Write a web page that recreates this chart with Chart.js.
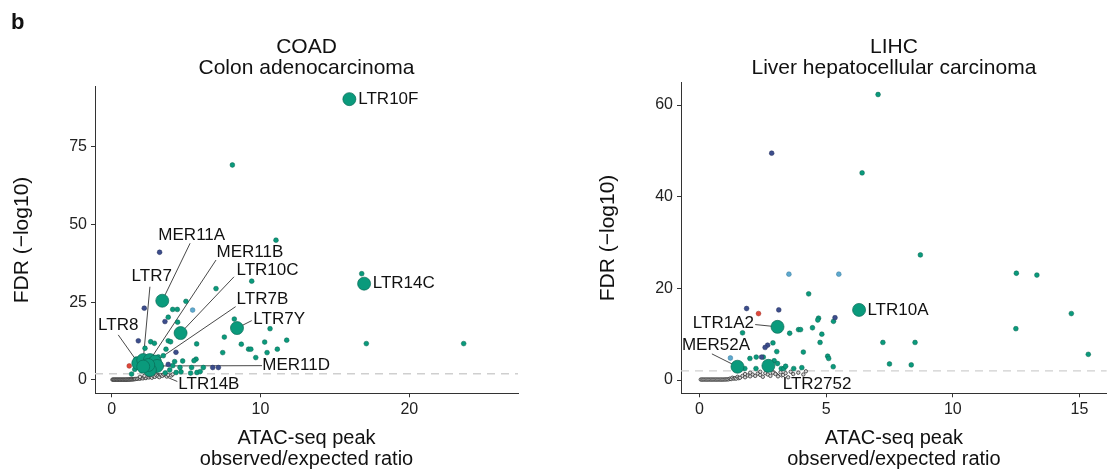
<!DOCTYPE html>
<html><head><meta charset="utf-8">
<script src="https://cdn.jsdelivr.net/npm/chart.js@4"></script>
<style>
html,body{margin:0;padding:0;background:#fff;width:1114px;height:472px;overflow:hidden}
canvas{position:absolute;left:0;top:0}
</style></head><body>
<canvas id="c1" width="1114" height="472"></canvas>
<canvas id="c2" width="1114" height="472"></canvas>
<script>
// ---------- DATA ----------
const fdrThreshold = 2;

// COAD
const coadXTicks = [0, 10, 20];
const coadYTicks = [0, 25, 50, 75];
const coadGray = [[0.05,0.1],[0.1,0.1],[0.15,0.1],[0.2,0.1],[0.25,0.1],[0.3,0.1],[0.35,0.1],[0.4,0.1],[0.45,0.1],[0.5,0.1],[0.55,0.1],[0.6,0.1],[0.65,0.1],[0.7,0.1],[0.75,0.1],[0.8,0.1],[0.85,0.1],[0.9,0.1],[0.95,0.1],[1.0,0.12],[1.05,0.12],[1.1,0.13],[1.15,0.14],[1.2,0.15],[1.25,0.16],[1.3,0.18],[1.35,0.2],[1.4,0.2],[1.45,0.22],[1.5,0.25],[1.55,0.28],[1.6,0.3],[1.7,0.35],[1.8,0.45],[1.9,0.4],[2.0,0.6],[2.1,0.5],[2.2,0.8],[2.3,0.6],[2.4,1.0],[2.5,0.8],[2.6,1.1],[2.7,0.7],[2.8,1.3],[2.9,1.0],[3.0,1.5],[3.1,1.2],[3.2,0.9],[3.3,1.6],[3.4,1.3],[3.5,1.8],[3.7,1.1],[3.8,1.6],[4.0,1.4],[4.1,1.8],[2.2,1.3],[2.5,1.6],[1.9,1.0]];
const coadTeal = [[8.11,69.2],[11.04,45.0],[16.80,34.2],[9.41,31.8],[7.01,29.4],[17.11,11.7],[23.65,11.7],[4.99,25.3],[8.24,19.6],[10.64,16.5],[7.57,13.8],[11.76,12.8],[10.28,12.2],[8.71,11.5],[9.20,9.9],[9.35,9.9],[10.44,8.8],[11.13,9.9],[7.46,8.8],[9.68,7.2],[4.10,22.7],[4.41,22.7],[3.80,20.2],[4.43,18.6],[2.62,12.3],[2.87,11.8],[3.80,12.6],[3.96,12.3],[2.24,10.2],[3.65,9.9],[5.71,11.6],[5.67,6.7],[5.53,6.2],[4.77,6.1],[4.23,5.9],[4.59,4.0],[5.37,4.0],[6.16,4.0],[4.33,2.4],[4.66,2.6],[5.30,2.2],[5.73,2.4],[5.95,2.7],[1.34,1.9],[1.63,6.7],[3.47,7.8],[3.13,7.4],[3.9,3.2],[4.1,4.6],[2.0,3.0],[1.55,3.4],[3.6,2.3]];
const coadNavy = [[3.22,41.1],[2.19,23.1],[3.58,18.8],[1.79,12.6],[4.32,8.9],[3.80,5.0],[6.79,4.0],[7.17,4.0],[3.3,4.3]];
const coadLightBlue = [[5.44,22.5]];
const coadRed = [[1.18,4.5]];
const coadBigNames = ['LTR10F','LTR14C','MER11A','LTR10C','LTR7Y','LTR8','LTR7','MER11B','LTR7B','MER11D','LTR14B','',''];
const coadBig = [[15.97,90.4],[16.96,31.0],[3.40,25.5],[4.63,15.1],[8.42,16.7],[1.79,5.4],[2.12,6.4],[2.57,6.4],[2.91,5.9],[3.05,4.5],[2.57,3.2],[2.46,4.8],[2.12,4.3]];
// label layout: name, text anchor (data units), align, leader start (data units or null)
const coadLabels = [
  ['LTR10F', [16.57,90.4], 'left', null],
  ['LTR14C', [17.54,31.0], 'left', null],
  ['MER11A', [5.38,46.4], 'center', [5.27,44.0]],
  ['LTR7',   [2.69,33.2], 'center', [2.57,30.0]],
  ['MER11B', [9.29,41.0], 'center', [7.01,38.6]],
  ['LTR10C', [10.47,35.4], 'center', [8.22,33.2]],
  ['LTR7B',  [10.13,26.1], 'center', [8.33,23.6]],
  ['LTR7Y',  [9.52,19.5], 'left', [9.41,19.1]],
  ['LTR8',   [0.44,17.7], 'center', [0.44,14.5]],
  ['MER11D', [10.12,4.6], 'left', [10.1,4.6]],
  ['LTR14B', [4.48,-1.4], 'left', [4.41,-0.5]]
];

// LIHC
const lihcXTicks = [0, 5, 10, 15];
const lihcYTicks = [0, 20, 40, 60];
const lihcGray = [[0.05,0.1],[0.1,0.1],[0.15,0.1],[0.2,0.1],[0.25,0.1],[0.3,0.1],[0.35,0.1],[0.4,0.1],[0.45,0.1],[0.5,0.1],[0.55,0.1],[0.6,0.1],[0.65,0.1],[0.7,0.1],[0.75,0.1],[0.8,0.1],[0.85,0.1],[0.9,0.1],[0.95,0.1],[1.0,0.12],[1.05,0.12],[1.1,0.15],[1.15,0.15],[1.2,0.3],[1.25,0.2],[1.3,0.5],[1.35,0.3],[1.4,0.4],[1.45,0.3],[1.5,0.7],[1.55,0.4],[1.6,0.5],[1.7,0.9],[1.8,0.6],[1.9,1.0],[2.0,0.8],[2.1,1.2],[2.2,0.9],[2.3,1.4],[2.4,1.1],[2.5,0.7],[2.6,1.5],[2.7,1.2],[2.8,0.9],[2.9,1.6],[3.0,1.3],[3.1,0.8],[3.2,1.7],[3.3,1.1],[3.4,1.5],[3.5,0.6],[3.6,1.8],[3.7,1.3],[3.9,1.6],[4.1,1.2],[4.2,1.9],[2.0,1.6],[2.4,1.8],[1.8,1.3]];
const lihcTeal = [[7.05,62.3],[6.42,45.2],[8.72,27.3],[12.51,23.3],[13.32,22.9],[4.31,18.8],[14.68,14.5],[12.49,11.2],[15.35,5.6],[7.24,8.2],[8.51,8.2],[7.50,3.5],[8.36,3.3],[4.70,13.5],[4.67,13.1],[4.46,11.4],[5.29,12.8],[3.91,11.0],[3.99,11.0],[3.56,10.2],[4.83,10.0],[4.76,8.2],[2.90,8.1],[4.10,6.1],[3.05,6.2],[5.06,5.2],[5.10,4.7],[5.28,2.9],[4.04,2.7],[3.72,2.5],[1.70,10.3],[1.99,4.7],[2.24,5.0],[2.52,5.0],[1.79,2.5],[2.23,2.5],[3.23,2.5],[3.33,2.5],[2.95,4.2],[3.08,3.6],[3.40,3.0]];
const lihcNavy = [[2.85,49.5],[1.86,15.6],[3.13,15.3],[5.35,13.6],[2.69,7.6],[2.59,7.1],[2.45,5.0]];
const lihcLightBlue = [[3.53,23.1],[5.50,23.1],[1.22,4.8]];
const lihcRed = [[2.33,14.5]];
const lihcBigNames = ['LTR10A','LTR1A2','MER52A','LTR2752'];
const lihcBig = [[6.30,15.3],[3.08,11.6],[1.50,2.9],[2.72,3.1]];
const lihcLabels = [
  ['LTR10A', [6.63,15.3], 'left', null],
  ['LTR1A2', [2.15,12.4], 'right', [2.2,12.1]],
  ['MER52A', [0.65,7.5], 'center', [0.49,5.7]],
  ['LTR2752',[4.64,-0.9], 'center', [3.27,0.5]]
];

// ---------- STYLE ----------
const FONT = "'Liberation Sans', Arial, sans-serif";
const TEAL = '#0a9a7c', NAVY = '#3c4d8c', LBLUE = '#5ea9cf', RED = '#e0473a';
Chart.defaults.font.family = FONT;

const pts = a => a.map(p => ({x: p[0], y: p[1]}));

const annotPlugin = {
  id: 'annot',
  beforeDatasetsDraw(chart, args, o) {
    const {ctx, chartArea: ca, scales: {x, y}} = chart;
    ctx.save();
    ctx.beginPath(); ctx.rect(ca.left, ca.top, ca.right - ca.left, ca.bottom - ca.top); ctx.clip();
    ctx.strokeStyle = '#cfcfcf'; ctx.lineWidth = 1.3; ctx.setLineDash([8, 6]);
    const ty = y.getPixelForValue(fdrThreshold);
    ctx.beginPath(); ctx.moveTo(ca.left, ty); ctx.lineTo(ca.right, ty); ctx.stroke();
    ctx.setLineDash([]);
    ctx.strokeStyle = '#333'; ctx.lineWidth = 0.9;
    o.labels.forEach(([name, t, al, ls]) => {
      if (!ls) return;
      const i = o.names.indexOf(name);
      const p = o.big[i];
      ctx.beginPath();
      ctx.moveTo(x.getPixelForValue(ls[0]), y.getPixelForValue(ls[1]));
      ctx.lineTo(x.getPixelForValue(p[0]), y.getPixelForValue(p[1]));
      ctx.stroke();
    });
    ctx.restore();
  },
  afterDatasetsDraw(chart, args, o) {
    const {ctx, scales: {x, y}} = chart;
    ctx.save();
    ctx.fillStyle = '#111'; ctx.font = '17px ' + FONT; ctx.textBaseline = 'middle';
    o.labels.forEach(([name, t, al]) => {
      ctx.textAlign = al;
      ctx.fillText(name, x.getPixelForValue(t[0]), y.getPixelForValue(t[1]));
    });
    ctx.restore();
  },
  afterDraw(chart, args, o) {
    const {ctx, chartArea: ca} = chart;
    ctx.save();
    ctx.fillStyle = '#111'; ctx.textAlign = 'center'; ctx.textBaseline = 'middle';
    ctx.font = '21px ' + FONT;
    const cx = (ca.left + ca.right) / 2;
    ctx.fillText(o.title[0], cx, 47);
    ctx.fillText(o.title[1], cx, 68);
    if (o.tag) {
      ctx.font = 'bold 22px ' + FONT; ctx.textAlign = 'left'; ctx.textBaseline = 'alphabetic';
      ctx.fillText(o.tag, 11, 29);
    }
    ctx.restore();
  }
};

function makePanel(id, cfg) {
  new Chart(document.getElementById(id), {
    type: 'scatter',
    data: {
      datasets: [
        {data: pts(cfg.big), pointRadius: 6.5, backgroundColor: TEAL, borderColor: '#0a6b57', borderWidth: 0.7, order: 0},
        {data: pts(cfg.red), pointRadius: 2.4, backgroundColor: RED, borderColor: '#9a2a20', borderWidth: 0.5, order: 1},
        {data: pts(cfg.lblue), pointRadius: 2.4, backgroundColor: LBLUE, borderColor: '#3a7a9a', borderWidth: 0.5, order: 1},
        {data: pts(cfg.navy), pointRadius: 2.4, backgroundColor: NAVY, borderColor: '#26325e', borderWidth: 0.5, order: 1},
        {data: pts(cfg.teal), pointRadius: 2.4, backgroundColor: TEAL, borderColor: '#086450', borderWidth: 0.5, order: 1},
        {data: pts(cfg.gray), pointRadius: 1.7, backgroundColor: '#d8d8d8', borderColor: '#333', borderWidth: 0.8, order: 2}
      ]
    },
    options: {
      responsive: false, animation: false, devicePixelRatio: 1,
      layout: {padding: cfg.pad},
      plugins: {legend: {display: false}, tooltip: {enabled: false},
        annot: {labels: cfg.labels, names: cfg.names, big: cfg.big, title: cfg.title, tag: cfg.tag}},
      scales: {
        x: {
          type: 'linear', min: cfg.xr[0], max: cfg.xr[1],
          afterBuildTicks: s => { s.ticks = cfg.xt.map(v => ({value: v})); },
          afterFit: s => { s.height = cfg.xh; },
          grid: {drawOnChartArea: false, drawTicks: true, tickLength: 4, color: '#333', tickColor: '#333'},
          border: {display: true, color: '#333', width: 1},
          ticks: {color: '#222', font: {size: 16}, padding: 3, maxRotation: 0, autoSkip: false},
          title: {display: true, text: ['ATAC-seq peak', 'observed/expected ratio'], color: '#111',
                  font: {size: 20, lineHeight: 1.05}, padding: {top: 0, bottom: 2.5}}
        },
        y: {
          type: 'linear', min: cfg.yr[0], max: cfg.yr[1],
          afterBuildTicks: s => { s.ticks = cfg.yt.map(v => ({value: v})); },
          afterFit: s => { s.width = cfg.yw; },
          grid: {drawOnChartArea: false, drawTicks: true, tickLength: 4, color: '#333', tickColor: '#333'},
          border: {display: true, color: '#333', width: 1},
          ticks: {color: '#222', font: {size: 16}, padding: 4},
          title: {display: true, text: 'FDR (\u2212log10)', color: '#111',
                  font: {size: 21, lineHeight: 1.2}, padding: {top: cfg.ytp, bottom: 0}}
        }
      }
    },
    plugins: [annotPlugin]
  });
}

makePanel('c1', {
  big: coadBig, names: coadBigNames, labels: coadLabels, teal: coadTeal, navy: coadNavy,
  lblue: coadLightBlue, red: coadRed, gray: coadGray,
  xt: coadXTicks, yt: coadYTicks, xr: [-1.12, 27.3], yr: [-4.3, 94.4],
  pad: {left: 0, top: 86.7, right: 596, bottom: 0}, xh: 78.7, yw: 95, ytp: 10,
  title: ['COAD', 'Colon adenocarcinoma'], tag: 'b'
});
makePanel('c2', {
  big: lihcBig, names: lihcBigNames, labels: lihcLabels, teal: lihcTeal, navy: lihcNavy,
  lblue: lihcLightBlue, red: lihcRed, gray: lihcGray,
  xt: lihcXTicks, yt: lihcYTicks, xr: [-0.73, 16.08], yr: [-2.9, 64.9],
  pad: {left: 557, top: 82.6, right: 0, bottom: 0}, xh: 78.7, yw: 124, ytp: 38.5,
  title: ['LIHC', 'Liver hepatocellular carcinoma'], tag: null
});
</script></body></html>
